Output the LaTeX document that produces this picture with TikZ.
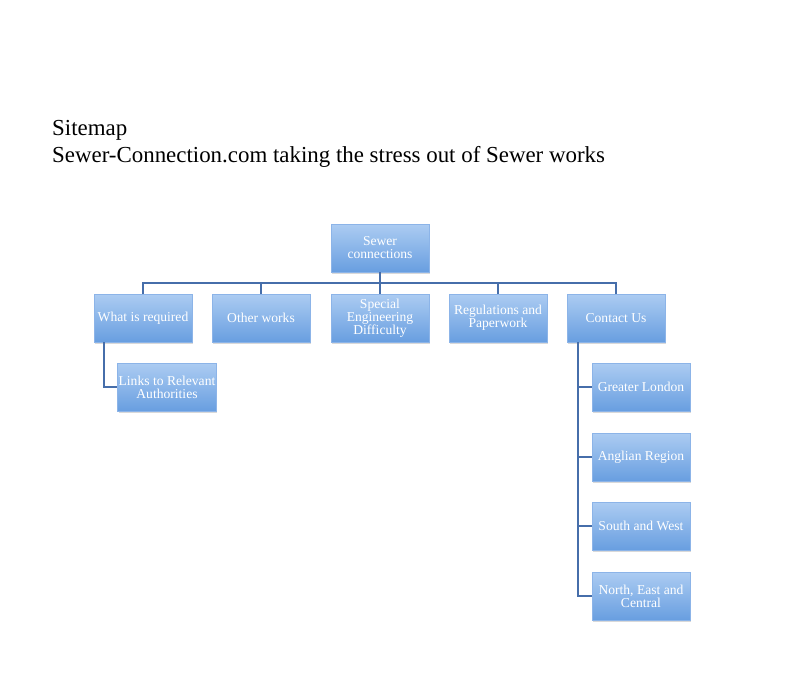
\documentclass[tikz,border=0pt]{standalone}
\usepackage{fontspec}
\setmainfont{Liberation Serif}
\usetikzlibrary{shadows}
\definecolor{boxtop}{RGB}{172,204,242}
\definecolor{boxbottom}{RGB}{104,158,224}
\definecolor{boxline}{RGB}{140,180,232}
\definecolor{linkblue}{RGB}{70,110,170}
\tikzset{
  page/.style={x=1pt,y=-1pt},
  boxnode/.style={minimum width=98pt,minimum height=48pt,inner sep=1pt,
    top color=boxtop,bottom color=boxbottom,
    draw=boxline,text=white,align=center,font=\fontsize{13.6}{13}\selectfont,
    drop shadow={shadow xshift=1pt,shadow yshift=-2pt,opacity=0.3}},
  link/.style={draw=linkblue,line width=1.2pt}
}
\begin{document}
\begin{tikzpicture}[page]
\useasboundingbox (0,0) rectangle (812,673);
% Titel
\node[anchor=base west,font=\fontsize{22.9}{22}\selectfont,inner sep=0] (title) at (52,135) {Sitemap};
\node[anchor=base west,font=\fontsize{22.9}{22}\selectfont,inner sep=0] (subtitle) at (52,162) {Sewer-Connection.com taking the stress out of Sewer works};
% Boxen
\node[boxnode] (root) at (380,248) {Sewer\\connections};
\node[boxnode] (req) at (143,318) {What is required};
\node[boxnode] (other) at (261,318) {Other works};
\node[boxnode] (special) at (380,318) {Special\\Engineering\\Difficulty};
\node[boxnode] (regs) at (498,318) {Regulations and\\Paperwork};
\node[boxnode] (contact) at (616,318) {Contact Us};
\node[boxnode] (links) at (167,387) {Links to Relevant\\Authorities};
\node[boxnode] (london) at (641,387) {Greater London};
\node[boxnode] (anglian) at (641,457) {Anglian Region};
\node[boxnode] (south) at (641,526) {South and West};
\node[boxnode] (north) at (641,596) {North, East and\\Central};
% Linien
\coordinate (bus) at (380,283);
\foreach \n in {req,other,special,regs,contact}
  \draw[link] (root.south) -- (bus) -| (\n.north);
\draw[link] ([xshift=-39pt]req.south) |- (links.west);
\foreach \n in {london,anglian,south,north}
  \draw[link] ([xshift=-38pt]contact.south) |- (\n.west);
\end{tikzpicture}
\end{document}
